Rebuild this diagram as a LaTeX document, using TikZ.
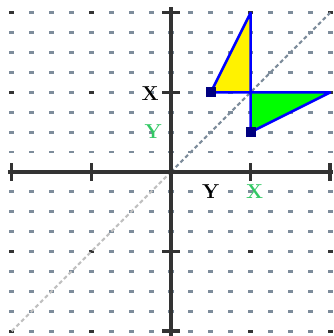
\documentclass[tikz,border=0pt]{standalone}
\usepackage{tikz}
\usetikzlibrary{arrows.meta,calc}
\definecolor{gridgrey}{RGB}{125,140,155}
\definecolor{axisdark}{RGB}{51,51,51}
\definecolor{diaglight}{RGB}{192,192,192}
\definecolor{edgeblue}{RGB}{0,0,255}
\definecolor{markernavy}{RGB}{0,0,128}
\definecolor{labelgreen}{RGB}{50,200,100}

\begin{document}
\begin{tikzpicture}[x=0.5cm,y=0.5cm,font=\Large\bfseries,
    dotmark/.style={fill=gridgrey,draw=none},
    axisline/.style={axisdark,line width=2.5pt},
    triedge/.style={draw=edgeblue,line width=1.8pt,line join=round},
    vertexbox/.style={fill=markernavy,draw=none,minimum size=7pt,inner sep=0pt},
    axislabel/.style={inner sep=0pt,draw,line width=0.5pt}]
    \useasboundingbox (-8.59,-8.24) rectangle (8.14,8.64);
    % grid of small dashes
    \foreach \i in {-8,...,8}
      \foreach \j in {-8,...,8}
        \fill[dotmark] ($(\i,\j)+(-1.8pt,-1pt)$) rectangle ($(\i,\j)+(1.8pt,1pt)$);
    \foreach \i in {-8,-4,4,8}
      \foreach \j in {-8,-4,4,8}
        \fill[axisdark] ($(\i,\j)+(-1.8pt,-1pt)$) rectangle ($(\i,\j)+(1.8pt,1pt)$);
    % line y = x
    \coordinate (o) at (0,0);
    \coordinate (dlow) at (-8,-8);
    \coordinate (dhigh) at (8,8);
    \draw[diaglight,line width=1.5pt,dash pattern=on 2.8pt off 2pt] (dlow) -- (o);
    \draw[gridgrey,line width=1.5pt,dash pattern=on 2.8pt off 2pt] (o) -- (dhigh);
    % axes
    \coordinate (xl) at (-8.19,0);
    \coordinate (xr) at (8.14,0);
    \coordinate (yb) at (0,-8.24);
    \coordinate (yt) at (0,8.29);
    \draw[axisline] (xl) -- (xr);
    \draw[axisline] (yb) -- (yt);
    \foreach \t in {-8,-4,4,8} {
      \draw[axisline] (\t,-0.45) -- (\t,0.45);
      \draw[axisline] (-0.45,\t) -- (0.45,\t);
    }
    % triangles
    \coordinate (A) at (2,4);
    \coordinate (B) at (4,8);
    \coordinate (C) at (4,4);
    \coordinate (D) at (8,4);
    \coordinate (E) at (4,2);
    \fill[yellow] (A) -- (B) -- (C) -- cycle;
    \fill[green] (C) -- (D) -- (E) -- cycle;
    \draw[triedge] (A) -- (B) -- (C) -- cycle;
    \draw[triedge] (C) -- (D) -- (E) -- cycle;
    \node[vertexbox] (ma) at (A) {};
    \node[vertexbox] (me) at (E) {};
    % labels
    \node[inner sep=0pt,black] (xa) at (-1.05,3.95) {X};
    \node[inner sep=0pt,black] (ya) at (2.0,-0.97) {Y};
    \node[inner sep=0pt,labelgreen] (ye) at (-0.9,2.04) {Y};
    \node[inner sep=0pt,labelgreen] (xe) at (4.2,-0.97) {X};
  \end{tikzpicture}
\end{document}
